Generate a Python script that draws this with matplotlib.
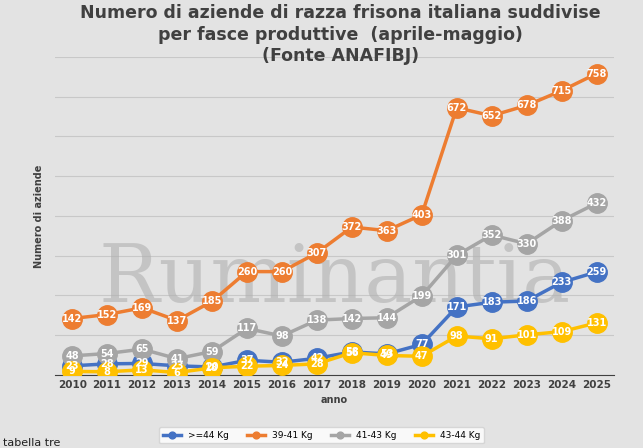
import matplotlib.pyplot as plt
import numpy as np

anni = [str(a) for a in range(2010, 2026)]
s_44 = [23, 28, 29, 23, 20, 37, 32, 42, 58, 53, 77, 171, 183, 186, 233, 259]
s_39_41 = [142, 152, 169, 137, 185, 260, 260, 307, 372, 363, 403, 672, 652, 678, 715, 758]
s_41_43 = [48, 54, 65, 41, 59, 117, 98, 138, 142, 144, 199, 301, 352, 330, 388, 432]
s_43_44 = [9, 8, 13, 6, 18, 22, 24, 28, 56, 49, 47, 98, 91, 101, 109, 131]

serie = [
    (">=44 Kg", s_44, "#4472C4"),
    ("39-41 Kg", s_39_41, "#ED7D31"),
    ("41-43 Kg", s_41_43, "#A5A5A5"),
    ("43-44 Kg", s_43_44, "#FFC000"),
]

fig = plt.figure(figsize=(6.43, 4.48), dpi=100)
fig.patch.set_facecolor("#e3e3e3")
ax = fig.add_axes([0.085, 0.163, 0.87, 0.71])
ax.set_facecolor("#e3e3e3")
x = np.arange(len(anni))

for nome, vals, col in serie:
    ax.plot(x, vals, color=col, lw=2.5, marker="o", ms=14, label=nome, zorder=3)
    for xi, v in zip(x, vals):
        ax.text(xi, v, str(v), ha="center", va="center", color="white",
                fontsize=7, fontweight="bold", zorder=4)

ax.set_ylim(0, 800)
ax.set_xlim(-0.5, len(anni) - 0.5)
ax.set_yticks(range(0, 801, 100))
ax.set_yticklabels([])
ax.tick_params(axis="y", length=0)
ax.tick_params(axis="x", length=0, labelsize=7.5)
ax.set_xticks(x)
ax.set_xticklabels(anni, color="#404040", fontweight="bold")
ax.grid(axis="y", color="#c8c8c8", lw=0.8)
for s in ["top", "right", "left"]:
    ax.spines[s].set_visible(False)
ax.spines["bottom"].set_color("#404040")
ax.set_xlabel("anno", fontsize=7, fontweight="bold", color="#404040")
ax.set_ylabel("Numero di aziende", fontsize=7, fontweight="bold", color="#404040")

ax.text(0.5, 0.3, "Ruminantia", transform=ax.transAxes, ha="center", va="center",
        fontsize=58, family="serif", color="#b0b0b0", alpha=0.6, zorder=2)

fig.text(0.53, 0.99, "Numero di aziende di razza frisona italiana suddivise\nper fasce produttive  (aprile-maggio)\n(Fonte ANAFIBJ)",
         ha="center", va="top", fontsize=12.5, fontweight="bold", color="#404040", linespacing=1.25)

fig.legend(loc="lower center", bbox_to_anchor=(0.5, 0.0), ncol=4, fontsize=6.5,
           frameon=True, facecolor="white", edgecolor="#d0d0d0", markerscale=0.35)
fig.text(0.005, 0.005, "tabella tre", fontsize=8, color="#202020")

fig.savefig("out.png", dpi=100, facecolor=fig.get_facecolor())
